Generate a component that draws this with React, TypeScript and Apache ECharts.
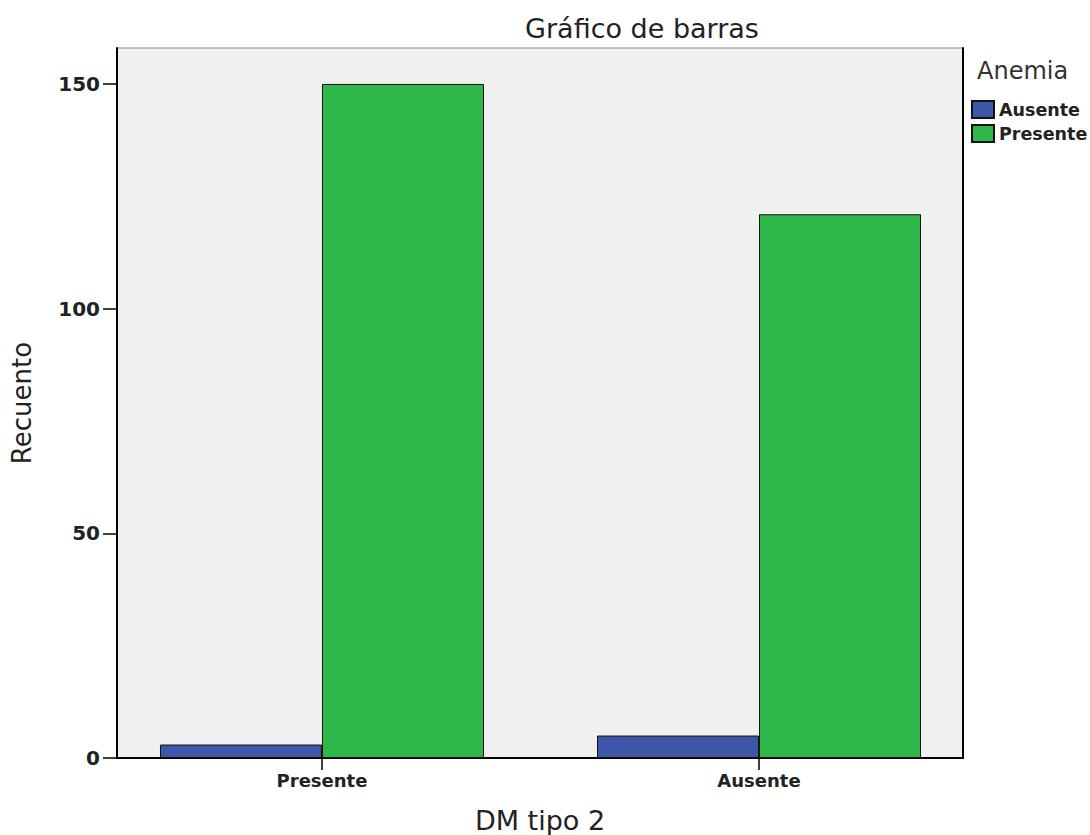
import React, { useEffect, useRef } from "react";
import * as echarts from "echarts";

const categories = ["Presente", "Ausente"];
const seriesNames = ["Ausente", "Presente"];
const ausenteValues = [3, 5];
const presenteValues = [150, 121];
const yTicks = [0, 50, 100, 150];
const colors = ["#3e56aa", "#2eb84a"];

export default function App() {
  const ref = useRef<HTMLDivElement>(null);
  useEffect(() => {
    if (!ref.current) return;
    const chart = echarts.init(ref.current, undefined, { renderer: "svg" });
    const font = "DejaVu Sans";
    const catIdx = categories.map((_, i) => i);
    const option = {
      animation: false,
      backgroundColor: "#ffffff",
      title: {
        text: "Gráfico de barras",
        left: 637,
        top: 10,
        textAlign: "center",
        textStyle: { fontFamily: font, fontSize: 27, fontWeight: "normal", color: "#222" },
      },
      graphic: [
        {
          type: "text",
          left: 977,
          top: 59,
          style: { text: "Anemia", fontFamily: font, fontSize: 24, fill: "#333" },
        },
      ],
      legend: {
        orient: "vertical",
        left: 966,
        top: 95,
        itemWidth: 22,
        itemHeight: 17,
        itemGap: 5,
        icon: "rect",
        data: seriesNames,
        itemStyle: { borderColor: "#111", borderWidth: 2 },
        textStyle: { fontFamily: font, fontSize: 17.5, fontWeight: "bold", color: "#222", padding: [0, 0, 0, 0] },
      },
      grid: {
        left: 117,
        top: 48,
        width: 846,
        height: 710,
        show: true,
        backgroundColor: "#f0f0f0",
        borderColor: "#888",
        borderWidth: 1,
        containLabel: false,
        outerBoundsMode: "none",
      },
      xAxis: {
        type: "value",
        min: -0.4691,
        max: 1.4668,
        name: "DM tipo 2",
        nameLocation: "middle",
        nameGap: 49,
        nameTextStyle: { fontFamily: font, fontSize: 27, color: "#222" },
        axisLine: { show: true, onZero: false, lineStyle: { color: "#000", width: 2 } },
        axisTick: { show: true, customValues: catIdx, length: 12, lineStyle: { color: "#000", width: 1.5 } },
        axisLabel: {
          customValues: catIdx,
          formatter: (v: number) => categories[Math.round(v)] ?? "",
          fontFamily: font,
          fontSize: 18,
          fontWeight: "bold",
          color: "#222",
          margin: 13,
        },
        splitLine: { show: false },
      },
      yAxis: [
        {
          type: "value",
          min: 0,
          max: 158,
          name: "Recuento",
          nameLocation: "middle",
          nameGap: 82,
          nameTextStyle: { fontFamily: font, fontSize: 26, color: "#222" },
          axisLine: { show: true, onZero: false, lineStyle: { color: "#000", width: 2 } },
          axisTick: { show: true, customValues: yTicks, length: 14, lineStyle: { color: "#000", width: 1.5 } },
          axisLabel: {
            customValues: yTicks,
            fontFamily: font,
            fontSize: 20,
            fontWeight: "bold",
            color: "#222",
            margin: 17,
          },
          splitLine: { show: false },
        },
        {
          type: "value",
          position: "right",
          min: 0,
          max: 158,
          axisLine: { show: true, onZero: false, lineStyle: { color: "#000", width: 2 } },
          axisTick: { show: false },
          axisLabel: { show: false },
          splitLine: { show: false },
        },
      ],
      series: [
        {
          name: seriesNames[0],
          type: "bar",
          barWidth: 162,
          barGap: "0%",
          data: ausenteValues.map((v, i) => [i, v]),
          itemStyle: { color: colors[0], borderColor: "#111", borderWidth: 1 },
        },
        {
          name: seriesNames[1],
          type: "bar",
          barWidth: 162,
          barGap: "0%",
          data: presenteValues.map((v, i) => [i, v]),
          itemStyle: { color: colors[1], borderColor: "#111", borderWidth: 1 },
        },
      ],
    };
    chart.setOption(option as any);
    return () => chart.dispose();
  }, []);
  return (
    <div
      ref={ref}
      style={{ position: "absolute", left: 0, top: 0, width: 1090, height: 835 }}
    />
  );
}
